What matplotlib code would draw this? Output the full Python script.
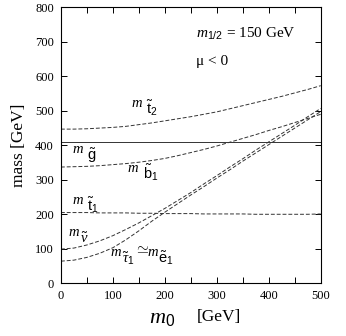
import matplotlib
matplotlib.use("Agg")
from matplotlib import pyplot as plt
from matplotlib.ticker import MultipleLocator

plt.rcParams['font.family'] = ['Liberation Serif', 'DejaVu Serif']
plt.rcParams['mathtext.fontset'] = 'custom'
plt.rcParams['mathtext.it'] = 'Liberation Serif:italic'
plt.rcParams['mathtext.rm'] = 'Liberation Sans'
plt.rcParams['mathtext.sf'] = 'Liberation Sans'

# m0 grid [GeV]
m0 = [0, 25, 50, 75, 100, 125, 150, 175, 200, 225, 250,
      275, 300, 325, 350, 375, 400, 425, 450, 475, 500]

# masses [GeV]
m_gluino = 410
m_stop2 = [447, 447, 448, 450, 452, 455, 460, 465, 471, 477, 483,
           490, 497, 506, 515, 524, 533, 542, 552, 562, 573]
m_sbot1 = [337, 338, 339, 341, 344, 347, 351, 356, 362, 370, 379,
           388, 398, 409, 420, 431, 443, 454, 466, 478, 490]
m_stop1 = [205, 205, 205, 204, 204, 204, 203, 203, 202, 202, 202,
           201, 201, 201, 201, 200, 200, 200, 200, 200, 201]
m_snu = [99, 102, 111, 123, 138, 156, 175, 196, 217, 240, 263,
         288, 312, 337, 361, 386, 410, 434, 458, 483, 507]
m_stau1 = [64, 67, 75, 87, 103, 126, 152, 180, 206, 231, 256,
           280, 305, 329, 354, 378, 402, 426, 450, 474, 498]

fig = plt.figure(figsize=(3.46, 3.36), dpi=100)
ax1 = fig.add_axes([0.176, 0.157, 0.751, 0.821])

ls = dict(color='#333333', lw=0.7, dashes=(4, 2))
ax1.plot(m0, m_stop2, **ls)
ax1.plot(m0, m_sbot1, **ls)
ax1.plot(m0, m_stop1, **ls)
ax1.plot(m0, m_snu, **ls)
ax1.plot(m0, m_stau1, **ls)
ax1.axhline(m_gluino, color='#333333', lw=0.7)

ax1.set_xlim(0, 500)
ax1.set_ylim(0, 800)
ax1.xaxis.set_major_locator(MultipleLocator(100))
ax1.xaxis.set_minor_locator(MultipleLocator(50))
ax1.yaxis.set_major_locator(MultipleLocator(100))
ax1.tick_params(which='both', direction='in', top=True, right=True,
                labelsize=9, width=0.7, length=4, pad=5)
for s in ax1.spines.values():
    s.set_linewidth(0.8)

ax1.set_ylabel('mass [GeV]', fontsize=12.5, labelpad=6)
fig.text(0.432, 0.038, r'$m_{\mathrm{0}}$', fontsize=16)
fig.text(0.569, 0.045, '[GeV]', fontsize=12.5)

ax1.text(260, 724, r'$m_{\mathit{1/2}}$ = 150 GeV', fontsize=11, va='center')
ax1.text(260, 642, u'\u03bc < 0', fontsize=11, va='center')


def mlabel(x, y, sub, dx=10.5, dy=-5, x0=0):
    ax1.annotate('m', (x, y), xytext=(x0, 0), textcoords='offset points',
                 style='italic', fontsize=10.5)
    ax1.annotate(sub, (x, y), xytext=(x0 + dx, dy),
                 textcoords='offset points', fontsize=10.5)


mlabel(135, 512, r'$\tilde{\mathrm{t}}_2$')
mlabel(22, 377, r'$\tilde{\mathrm{g}}$')
mlabel(129, 322, r'$\tilde{\mathrm{b}}_1$')
mlabel(22, 229, r'$\tilde{\mathrm{t}}_1$')
mlabel(14, 137, r'$\tilde{\nu}$', dx=8.5)
mlabel(95, 80, r'$\tilde{\tau}_1$', dx=8.5)
ax1.annotate(r'$\simeq$', (95, 80), xytext=(17, 2),
             textcoords='offset points', fontsize=11)
mlabel(95, 80, r'$\tilde{\mathrm{e}}_1$', dx=7.5, x0=27)

fig.savefig('out.png', dpi=100)
